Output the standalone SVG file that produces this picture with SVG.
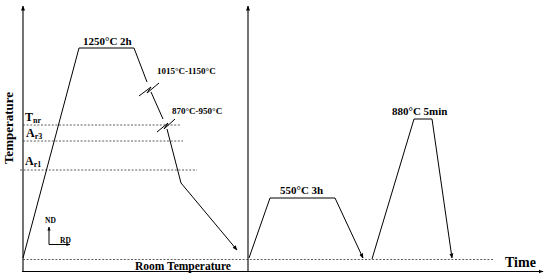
<svg xmlns="http://www.w3.org/2000/svg" width="550" height="277" viewBox="0 0 550 277">
<defs>
<style>
.ln{fill:none;stroke:#000;stroke-width:1;}
.ax{fill:none;stroke:#000;stroke-width:1.1;}
.ds{fill:none;stroke:#333;stroke-width:0.8;stroke-dasharray:2,1.6;}
.t{font-family:"Liberation Serif","Times New Roman",serif;font-weight:bold;fill:#000;}
</style>
<marker id="ah" viewBox="0 0 10 10" refX="9" refY="5" markerWidth="5" markerHeight="5" orient="auto" markerUnits="userSpaceOnUse">
<path d="M0,1 L10,5 L0,9 Z" fill="#000"/>
</marker>
<marker id="ahs" viewBox="0 0 10 10" refX="9" refY="5" markerWidth="4" markerHeight="4" orient="auto" markerUnits="userSpaceOnUse">
<path d="M0,1 L10,5 L0,9 Z" fill="#000"/>
</marker>
</defs>
<rect width="550" height="277" fill="#fff"/>
<g id="axes">
<line class="ax" x1="23" y1="272" x2="23" y2="6" marker-end="url(#ah)"/>
<line class="ax" x1="248" y1="272" x2="248" y2="6" marker-end="url(#ah)"/>
<line class="ax" x1="22" y1="271.5" x2="543" y2="271.5" marker-end="url(#ah)"/>
</g>
<g id="reference-lines">
<line class="ds" x1="23" y1="125" x2="180" y2="125"/>
<line class="ds" x1="23" y1="141" x2="183" y2="141"/>
<line class="ds" x1="20" y1="170" x2="197" y2="170"/>
<line class="ds" x1="23" y1="259.5" x2="493" y2="259.5"/>
</g>
<g id="connectors">
<polyline class="ln" points="23,258 79,48 134,48 147,82"/>
<path class="ln" d="M139,96 L151,87 L147,93 L159,83"/>
<line class="ln" x1="151" y1="92" x2="163" y2="119"/>
<path class="ln" d="M157,132 L168,123 L164,129 L175,119"/>
<polyline class="ln" points="167,129 181,183 237,250" marker-end="url(#ah)"/>
<polyline class="ln" points="249,258 270,198 335,198 363,258" marker-end="url(#ah)"/>
<polyline class="ln" points="372,259 414,119 432,119 452,258" marker-end="url(#ah)"/>
<line class="ln" x1="49" y1="244.5" x2="49" y2="227" stroke-width="0.8" marker-end="url(#ahs)"/>
<line class="ln" x1="49" y1="244.5" x2="70" y2="244.5" stroke-width="0.8" marker-end="url(#ahs)"/>
</g>
<g id="labels">
<text class="t" font-size="13" text-anchor="middle" transform="translate(13,128) rotate(-90)">Temperature</text>
<text class="t" font-size="11" x="83" y="45">1250°C 2h</text>
<text class="t" font-size="9" x="157" y="74">1015°C-1150°C</text>
<text class="t" font-size="9" x="172" y="114">870°C-950°C</text>
<text class="t" font-size="12" x="25" y="121">T<tspan font-size="8" dy="2">nr</tspan></text>
<text class="t" font-size="12" x="26" y="137">A<tspan font-size="8" dy="2">r3</tspan></text>
<text class="t" font-size="12" x="25" y="165">A<tspan font-size="8" dy="2">r1</tspan></text>
<text class="t" font-size="7.5" x="45" y="223">ND</text>
<text class="t" font-size="7.5" x="60" y="243">RD</text>
<text class="t" font-size="11.5" x="135" y="269.5">Room Temperature</text>
<text class="t" font-size="11" x="280" y="194">550°C 3h</text>
<text class="t" font-size="11" x="392" y="115">880°C 5min</text>
<text class="t" font-size="14" x="505" y="267">Time</text>
</g>
</svg>
